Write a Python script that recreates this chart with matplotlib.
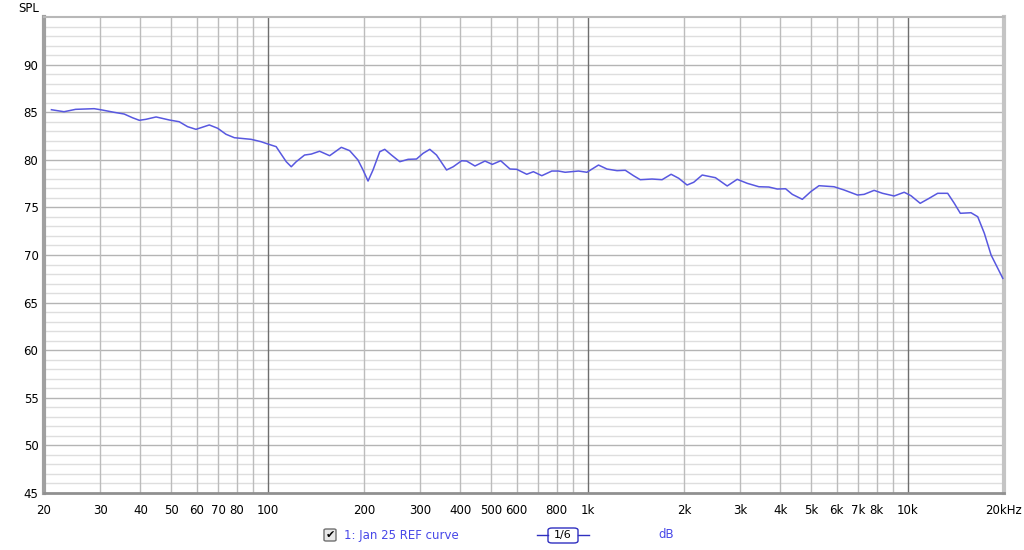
import numpy as np
import matplotlib
matplotlib.use("Agg")
import matplotlib.pyplot as plt
from matplotlib.patches import FancyBboxPatch

# ---- data ----
freq_hz = [21.1, 23.1, 25.1, 28.7, 30.4, 33.1, 35.6, 37.8, 39.7, 41.6, 44.8, 49.3,
           52.9, 56.2, 59.7, 65.7, 69.8, 74.1, 78.7, 88.8, 95.4, 100.1, 106.3,
           108.9, 114.3, 118.5, 122.8, 130.4, 136.8, 145.3, 156.2, 169.9, 180.4,
           191.5, 198.6, 205.9, 213.4, 224.0, 232.2, 243.7, 258.7, 274.7, 291.8,
           306.0, 321.1, 337.0, 362.3, 380.0, 403.7, 418.5, 444.4, 477.6, 503.4,
           534.8, 571.9, 600.3, 645.1, 676.6, 718.9, 772.7, 810.4, 850.4, 936.1,
           994.5, 1081, 1149, 1235, 1311, 1391, 1460, 1589, 1708, 1823, 1925, 2045,
           2145, 2280, 2508, 2729, 2933, 3152, 3428, 3683, 3913, 4154, 4360, 4686,
           4978, 5284, 5887, 6326, 6969, 7310, 7854, 8346, 9075, 9752, 10236, 10944,
           11678, 12408, 13336, 13986, 14606, 15772, 16554, 17362, 18224, 19828]
spl_db = [85.26, 85.05, 85.3, 85.37, 85.23, 84.99, 84.81, 84.42, 84.15, 84.25, 84.5, 84.18,
          84.0, 83.48, 83.2, 83.66, 83.31, 82.68, 82.32, 82.15, 81.9, 81.66, 81.38,
          80.85, 79.8, 79.27, 79.8, 80.5, 80.6, 80.9, 80.43, 81.31, 80.96,
          79.98, 78.93, 77.77, 78.93, 80.85, 81.1, 80.5, 79.8, 80.05, 80.08,
          80.68, 81.1, 80.5, 78.93, 79.27, 79.9, 79.87, 79.35, 79.87, 79.52,
          79.9, 79.03, 79.0, 78.48, 78.75, 78.33, 78.82, 78.82, 78.69, 78.82,
          78.69, 79.45, 79.03, 78.86, 78.9, 78.33, 77.91, 77.98, 77.91, 78.48, 78.06, 77.35,
          77.64, 78.4, 78.12, 77.25, 77.95, 77.53, 77.17, 77.14, 76.93, 76.96, 76.37, 75.85,
          76.65, 77.28, 77.17, 76.83, 76.3, 76.37, 76.79, 76.48, 76.2, 76.59, 76.23, 75.43,
          75.96, 76.48, 76.48, 75.43, 74.38, 74.44, 74.02, 72.28, 70.0, 67.55]

x_ticks = [20, 30, 40, 50, 60, 70, 80, 100, 200, 300, 400, 500, 600, 800, 1000,
           2000, 3000, 4000, 5000, 6000, 7000, 8000, 10000, 20000]
x_tick_labels = ["20", "30", "40", "50", "60", "70", "80", "100", "200", "300", "400",
                 "500", "600", "800", "1k", "2k", "3k", "4k", "5k", "6k", "7k", "8k",
                 "10k", "20kHz"]
y_ticks = [45, 50, 55, 60, 65, 70, 75, 80, 85, 90]
legend_label = "1: Jan 25 REF curve"

W, H = 1024, 550
fig = plt.figure(figsize=(W / 100, H / 100), dpi=100)
fig.patch.set_facecolor("white")
L, R, T, B = 44, 1004, 17, 493
ax = fig.add_axes([L / W, 1 - B / H, (R - L) / W, (B - T) / H])
ax.set_xscale("log")
ax.set_xlim(20, 20000)
ax.set_ylim(45, 95)

# grid lines
for db in range(46, 95):
    if db % 5 == 0:
        ax.axhline(db, color="#b4b4b4", lw=1.0, zorder=1)
    else:
        ax.axhline(db, color="#dedede", lw=1.0, zorder=0.5)
for dec in [10, 100, 1000, 10000]:
    for m in range(1, 10):
        f = dec * m
        if f <= 20 or f >= 20000:
            continue
        if m == 1:
            ax.axvline(f, color="#6e6e6e", lw=1.0, zorder=1.2)
        else:
            ax.axvline(f, color="#bcbcbc", lw=1.0, zorder=1.1)

ax.plot(freq_hz, spl_db, color="#5858e0", lw=1.1, zorder=3,
        solid_joinstyle="round", antialiased=True)

ax.set_xticks(x_ticks)
ax.set_xticklabels(x_tick_labels)
ax.xaxis.set_minor_locator(matplotlib.ticker.NullLocator())
ax.set_yticks(y_ticks)
ax.tick_params(axis="both", length=0, labelsize=8.5, colors="#000000")
ax.tick_params(axis="x", pad=8)
ax.tick_params(axis="y", pad=4)

ax.spines["top"].set_color("#b8b8b8")
ax.spines["top"].set_linewidth(1.5)
ax.spines["right"].set_color("#c4c4c4")
ax.spines["right"].set_linewidth(3)
ax.spines["left"].set_color("#a0a0a0")
ax.spines["left"].set_linewidth(3)
ax.spines["bottom"].set_color("#909090")
ax.spines["bottom"].set_linewidth(2)

fig.text(18 / W, 1 - 8 / H, "SPL", fontsize=8.5, va="center", ha="left")

# legend row
ly = 1 - 535 / H
fig.patches.append(FancyBboxPatch((324 / W, 1 - 541 / H), 12 / W, 12 / H,
                                  boxstyle="round,pad=0.0,rounding_size=0.002",
                                  transform=fig.transFigure, facecolor="#e8e8e8",
                                  edgecolor="#707070", lw=1))
fig.text(330 / W, ly, "\u2714", fontsize=8, ha="center", va="center", color="#000000")
fig.text(344 / W, ly, legend_label, fontsize=8.5, ha="left", va="center", color="#4848e8")
fig.lines.append(plt.Line2D([537 / W, 548 / W], [ly, ly], transform=fig.transFigure,
                            color="#3030c0", lw=1))
fig.lines.append(plt.Line2D([578 / W, 589 / W], [ly, ly], transform=fig.transFigure,
                            color="#3030c0", lw=1))
fig.patches.append(FancyBboxPatch((548 / W, 1 - 543 / H), 30 / W, 15 / H,
                                  boxstyle="round,pad=0.0,rounding_size=0.004",
                                  transform=fig.transFigure, facecolor="white",
                                  edgecolor="#3030c0", lw=1))
fig.text(563 / W, ly, "1/6", fontsize=8, ha="center", va="center", color="#000000")
fig.text(658 / W, ly, "dB", fontsize=8.5, ha="left", va="center", color="#4848e8")

fig.savefig("out.png", dpi=100)
